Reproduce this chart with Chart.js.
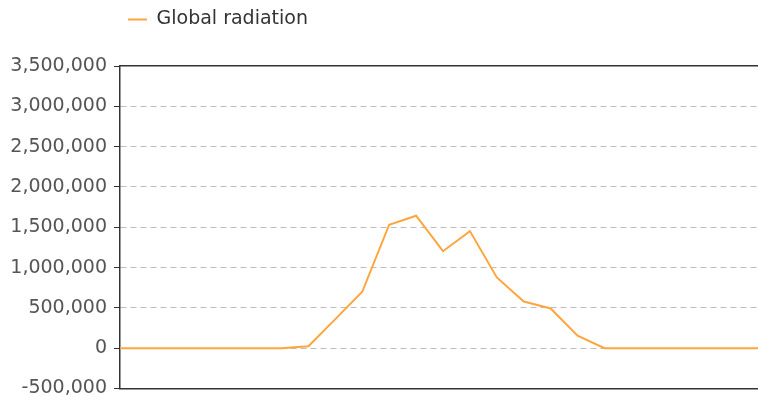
<!DOCTYPE html>
<html>
<head>
<meta charset="utf-8">
<script src="https://cdn.jsdelivr.net/npm/chart.js@4"></script>
<style>
  html, body { margin: 0; padding: 0; background: #fff; overflow: hidden; }
  #wrap { width: 758px; height: 401px; overflow: hidden; }
</style>
</head>
<body>
<div id="wrap"><canvas id="grafico" width="770" height="401"></canvas></div>
<script>
// horas do dia (0..24)
const horas = ['0', '1', '2', '3', '4', '5', '6', '7', '8', '9', '10', '11', '12',
    '13', '14', '15', '16', '17', '18', '19', '20', '21', '22', '23', '24'];
const radiacaoGlobal = [0, 0, 0, 0, 0, 0, 0, 25000, 360000, 700000, 1531000, 1643000, 1203000,
    1452000, 877000, 579000, 493000, 154000, 0, 0, 0, 0, 0, 0, 0];
const eixoY = { min: -500000, max: 3500000, passo: 500000 };

const corEixo = '#333';
const fonte = { family: 'DejaVu Sans', size: 19 };

// empurra a legenda para a direita, como no original
const moverLegenda = {
    id: 'moverLegenda',
    afterLayout(chart) {
        if (!chart.legend) return;
        chart.legend.left += 118;
        chart.legend.right += 118;
    }
};

const ctx = document.getElementById('grafico');
new Chart(ctx, {
    type: 'line',
    data: {
        labels: horas,
        datasets: [{
            label: 'Global radiation',
            data: radiacaoGlobal,
            borderColor: '#ffa53f',
            backgroundColor: '#ffa53f',
            borderWidth: 2,
            pointRadius: 0,
            tension: 0,
            fill: false
        }]
    },
    options: {
        responsive: false,
        animation: false,
        layout: { padding: { right: 4 } },
        plugins: {
            tooltip: { enabled: false },
            legend: {
                position: 'top',
                align: 'start',
                labels: {
                    usePointStyle: true,
                    pointStyle: 'line',
                    pointStyleWidth: 19,
                    boxWidth: 19,
                    padding: 10,
                    color: '#333',
                    font: fonte
                }
            }
        },
        scales: {
            x: {
                position: 'bottom',
                ticks: { display: false },
                grid: { display: false },
                border: { display: true, color: corEixo, width: 1.5 },
                afterFit(scale) { scale.height = 12.5; }
            },
            topo: {
                type: 'category',
                position: 'top',
                ticks: { display: false },
                grid: { display: false },
                border: { display: true, color: corEixo, width: 1.5 },
                afterFit(scale) { scale.height = 27; }
            },
            y: {
                min: eixoY.min,
                max: eixoY.max,
                ticks: {
                    stepSize: eixoY.passo,
                    color: '#555',
                    padding: 7,
                    font: fonte
                },
                grid: {
                    color: (c) => (c.tick && (c.tick.value === eixoY.min || c.tick.value === eixoY.max)) ? 'rgba(0,0,0,0)' : '#bdbdbd',
                    lineWidth: 1,
                    tickColor: corEixo,
                    tickLength: 6,
                    drawTicks: true
                },
                border: { display: true, color: corEixo, width: 1.5, dash: [6, 4] },
                afterFit(scale) {
                    scale.width = 120;
                    scale.paddingTop = 0;
                    scale.paddingBottom = 0;
                }
            }
        }
    },
    plugins: [moverLegenda]
});
</script>
</body>
</html>
